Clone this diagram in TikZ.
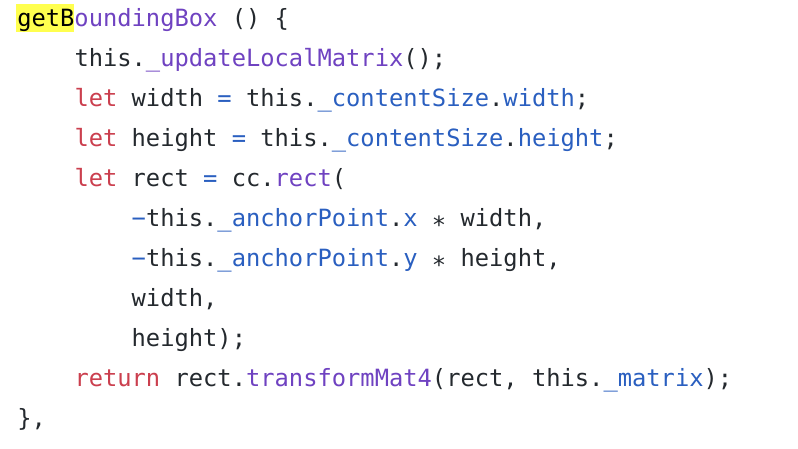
\documentclass[tikz,border=0pt]{standalone}
\usepackage{fontspec}
\setmonofont{DejaVu Sans Mono}
\definecolor{kw}{HTML}{CB3F4E}
\definecolor{fn}{HTML}{6F42C1}
\definecolor{pr}{HTML}{2A5FC0}
\definecolor{tx}{HTML}{24292E}
\definecolor{hl}{HTML}{FFFF4F}
\newcommand{\cKw}[1]{\textcolor{kw}{#1}}
\newcommand{\cFn}[1]{\textcolor{fn}{#1}}
\newcommand{\cPr}[1]{\textcolor{pr}{#1}}
\newcommand{\cAst}{\raisebox{-6.8pt}{*}}
\begin{document}
\begin{tikzpicture}[x=1pt,y=1pt,
  codeline/.style={anchor=base west,inner sep=0pt,outer sep=0pt,
    font=\fontsize{23.75}{40}\ttfamily,text=tx}]
\useasboundingbox[fill=white] (0,0) rectangle (798,-448);
\fill[hl] (16,-4) rectangle (74,-32);
\node[codeline] (l1) at (17.3,-26.5) {\textcolor{black}{getB}\cFn{oundingBox} () \{};
\node[codeline] (l2) at (74.5,-66.5) {this.\cFn{\_updateLocalMatrix}();};
\node[codeline] (l3) at (74.5,-106.5) {\cKw{let} width \cPr{=} this.\cPr{\_contentSize}.\cPr{width};};
\node[codeline] (l4) at (74.5,-146.5) {\cKw{let} height \cPr{=} this.\cPr{\_contentSize}.\cPr{height};};
\node[codeline] (l5) at (74.5,-186.5) {\cKw{let} rect \cPr{=} cc.\cFn{rect}(};
\node[codeline] (l6) at (131.7,-226.5) {\cPr{−}this.\cPr{\_anchorPoint}.\cPr{x} \cAst{} width,};
\node[codeline] (l7) at (131.7,-266.5) {\cPr{−}this.\cPr{\_anchorPoint}.\cPr{y} \cAst{} height,};
\node[codeline] (l8) at (131.7,-306.5) {width,};
\node[codeline] (l9) at (131.7,-346.5) {height);};
\node[codeline] (l10) at (74.5,-386.5) {\cKw{return} rect.\cFn{transformMat4}(rect, this.\cPr{\_matrix});};
\node[codeline] (l11) at (17.3,-426.5) {\},};
\end{tikzpicture}
\end{document}
